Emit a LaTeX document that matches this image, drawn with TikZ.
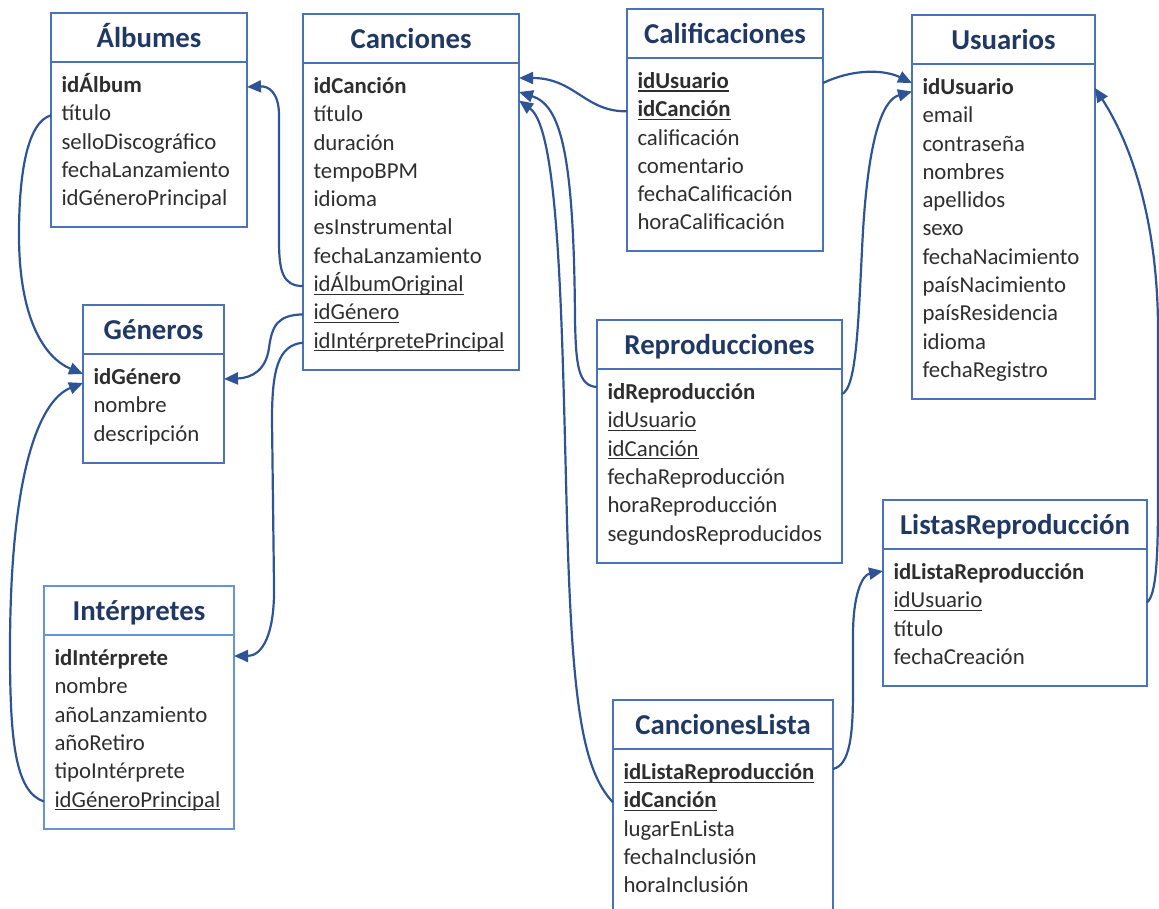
\documentclass[tikz,border=0pt]{standalone}
\usepackage{fontspec}
\setmainfont{Carlito}
\usetikzlibrary{arrows.meta,calc}
\definecolor{bc}{HTML}{4A72B8}
\definecolor{bcl}{HTML}{6595D4}
\definecolor{lc}{HTML}{2F5496}
\definecolor{tc}{HTML}{1F3864}
\definecolor{txt}{HTML}{2E2E2E}
\newcommand\ulx[1]{\setbox0\hbox{#1}\rlap{\rule[-3.2pt]{\wd0}{1.2pt}}\box0}
\def\tblcolor{bc}
\tikzset{
  hdr/.style={draw=\tblcolor, line width=2pt, outer sep=0pt, inner sep=0pt,
    minimum height=49pt, text height=25pt, text depth=4.5pt,
    font=\fontsize{28.8}{32}\selectfont\bfseries, text=tc},
  bdy/.style={draw=\tblcolor, line width=2pt, outer sep=0pt, inner sep=0pt},
  row/.style={anchor=base west, inner sep=0pt, outer sep=0pt, text height=16pt, text depth=5pt,
    font=\fontsize{22.8}{27}\selectfont, text=txt},
  conn/.style={draw=lc, line width=2.2pt, -{Triangle[length=14pt,width=12pt]}}
}
\newcommand\mktable[7]{%
  \pgfmathsetmacro\tw{#3-#2}%
  \pgfmathsetmacro\bh{29+(#5-1)*28.3+23}%
  \node[hdr, minimum width=\tw pt, anchor=north west] (#1) at (#2,#4) {#6};
  \node[bdy, minimum width=\tw pt, minimum height=\bh pt, anchor=north west] (#1B) at (#1.south west) {};
  \foreach [count=\i] \r in {#7} {
    \node[row] (#1-\i) at (#2+10.5, #4+79.5+\i*28.3-28.3) {\r};
  }
}
\begin{document}
\begin{tikzpicture}[x=1pt,y=-1pt]
\useasboundingbox (0,0) rectangle (1159,909);
\mktable{alb}{51}{247}{13}{5}{Álbumes}{{\textbf{idÁlbum}},título,selloDiscográfico,fechaLanzamiento,idGéneroPrincipal}
\mktable{can}{303}{519}{14}{10}{Canciones}{{\textbf{idCanción}},título,duración,tempoBPM,idioma,esInstrumental,fechaLanzamiento,{\ulx{idÁlbumOriginal}},{\ulx{idGénero}},{\ulx{idIntérpretePrincipal}}}
\mktable{cal}{627}{823}{9}{6}{Calificaciones}{{\ulx{\textbf{idUsuario}}},{\ulx{\textbf{idCanción}}},calificación,comentario,fechaCalificación,horaCalificación}
\mktable{usu}{912}{1095}{15}{11}{Usuarios}{{\textbf{idUsuario}},email,contraseña,nombres,apellidos,sexo,fechaNacimiento,paísNacimiento,paísResidencia,idioma,fechaRegistro}
\mktable{gen}{83}{224}{305}{3}{Géneros}{{\textbf{idGénero}},nombre,descripción}
\def\tblcolor{bcl}
\mktable{int}{44}{234}{586}{6}{Intérpretes}{{\textbf{idIntérprete}},nombre,añoLanzamiento,añoRetiro,tipoIntérprete,{\ulx{idGéneroPrincipal}}}
\def\tblcolor{bc}
\mktable{rep}{597}{842}{320}{6}{Reproducciones}{{\textbf{idReproducción}},{\ulx{idUsuario}},{\ulx{idCanción}},fechaReproducción,horaReproducción,segundosReproducidos}
\mktable{lr}{883}{1147}{500}{4}{ListasReproducción}{{\textbf{idListaReproducción}},{\ulx{idUsuario}},título,fechaCreación}
\mktable{cl}{613}{833}{700}{5}{CancionesLista}{{\ulx{\textbf{idListaReproducción}}},{\ulx{\textbf{idCanción}}},lugarEnLista,fechaInclusión,horaInclusión}

% connectors
\draw[conn] (canB.west |- can-8) .. controls (282,286) and (279,270) .. (279,240) -- (279,115) .. controls (279,92) and (268,86) .. (albB.east |- alb-1);
\draw[conn] (albB.west |- alb-2) .. controls (28,122) and (19,170) .. (19,235) .. controls (19,320) and (45,358) .. ($(genB.west |- gen-1)+(0,-5)$);
\draw[conn] (intB.west |- int-6) .. controls (15,792) and (10,740) .. (10,650) .. controls (10,470) and (40,400) .. ($(genB.west |- gen-1)+(0,4)$);
\draw[conn] (canB.west |- can-9) .. controls (278,315) and (272,325) .. (269,348) .. controls (266,370) and (252,378) .. (genB.east |- gen-1);
\draw[conn] (canB.west |- can-10) .. controls (278,345) and (272,370) .. (272,420) -- (274,585) .. controls (275,635) and (262,656) .. ($(intB.east |- int-1)+(0,-4)$);
\draw[conn] (calB.west |- cal-2) .. controls (585,112) and (575,78) .. ($(canB.east |- can-1)+(0,-10)$);
\draw[conn] (calB.east |- cal-1) .. controls (855,68) and (885,70) .. ($(usuB.west |- usu-1)+(0,-6)$);
\draw[conn] ($(repB.west |- rep-1)+(0,-7)$) .. controls (578,386) and (576,365) .. (575,320) .. controls (574,150) and (560,105) .. ($(canB.east |- can-1)+(0,4)$);
\draw[conn] (repB.east |- rep-1) .. controls (856,388) and (858,330) .. (862,250) .. controls (867,140) and (882,100) .. ($(usuB.west |- usu-1)+(0,2.5)$);
\draw[conn] (clB.west |- cl-2) .. controls (582,770) and (572,700) .. (567,520) .. controls (562,330) and (560,130) .. ($(canB.east |- can-1)+(0,12.5)$);
\draw[conn] ($(clB.east |- cl-1)+(0,-5)$) .. controls (850,765) and (853,735) .. (853,690) -- (853,635) .. controls (853,595) and (862,575) .. ($(lrB.west |- lr-1)+(0,-3)$);
\draw[conn] (lrB.east |- lr-2) .. controls (1156,595) and (1158,560) .. (1158,500) -- (1158,330) .. controls (1158,230) and (1135,150) .. ($(usuB.east |- usu-1)+(0,-1)$);
\end{tikzpicture}
\end{document}
